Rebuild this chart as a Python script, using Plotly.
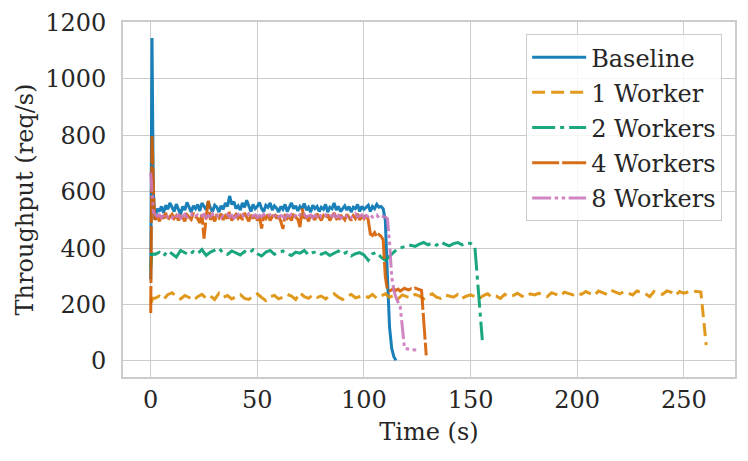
import plotly.graph_objects as go

# --- data ---
baseline_t = [0, 0.6, 1.2] + list(range(2, 116))
baseline_v = [
    290, 1145, 600,
    500, 540, 530, 548, 525, 552, 538, 560, 545,
    530, 556, 540, 520, 548, 535, 562, 545, 528, 550,
    540, 555, 532, 560, 548, 536, 565, 542, 530, 552,
    545, 528, 550, 538, 560, 548, 585, 555, 565, 540,
    550, 535, 560, 545, 570, 548, 530, 555, 540, 548,
    562, 540, 530, 552, 545, 560, 535, 550, 542, 528,
    548, 538, 555, 530, 545, 560, 540, 550, 532, 548,
    540, 558, 535, 545, 528, 552, 540, 548, 530, 545,
    538, 555, 528, 545, 540, 560, 535, 548, 530, 542,
    550, 535, 548, 528, 545, 540, 555, 530, 548, 538,
    545, 552, 530, 548, 540, 555, 545, 548,
    540, 500, 300, 120, 45, 15, 2,
]

w1_t = [0, 1] + list(range(2, 258, 2)) + [258, 260.5]
w1_v = [
    205, 222,
    222, 230, 218, 235, 242, 228, 220, 232, 225, 215,
    228, 236, 222, 230, 218, 240, 226, 232, 220, 228,
    235, 222, 218, 230, 238, 225, 214, 228, 232, 220,
    226, 236, 230, 218, 242, 228, 222, 234, 225, 230,
    220, 232, 238, 226, 218, 230, 236, 224, 228, 232,
    225, 236, 222, 230, 238, 226, 232, 220, 234, 228,
    224, 236, 230, 220, 232, 238, 226, 222, 234, 230,
    226, 236, 222, 230, 234, 228, 220, 232, 238, 226,
    230, 222, 236, 228, 232, 240, 230, 226, 238, 234,
    240, 232, 228, 242, 236, 230, 244, 238, 234, 242,
    236, 246, 240, 232, 248, 242, 236, 250, 244, 238,
    246, 240, 234, 248, 244, 238, 228, 246, 242, 236,
    248, 244, 232, 246, 240, 244, 248, 246,
    244, 56,
]

w2_t = [0, 0.5] + list(range(2, 152, 2)) + [152, 155.5]
w2_v = [
    330, 380,
    378, 385, 372, 390, 380, 368, 392, 384, 376, 388,
    380, 395, 374, 386, 392, 400, 382, 378, 390, 384,
    376, 388, 382, 394, 380, 372, 386, 392, 378, 384,
    390, 380, 374, 386, 382, 392, 376, 384, 388, 378,
    385, 374, 382, 390, 378, 386, 372, 380, 384, 376,
    357, 380, 385, 368, 357, 372, 386, 398, 404, 408,
    410, 406, 414, 420, 412, 418, 410, 422, 414, 408,
    416, 420, 412, 418, 417,
    405, 74,
]

w4_t = [0, 0.6, 1.5] + list(range(2, 128)) + [129.2]
w4_v = [
    170, 800, 560,
    500, 520, 495, 515, 505, 525, 498, 512, 520, 505,
    515, 498, 522, 508, 495, 518, 510, 502, 525, 512,
    505, 490, 520, 434, 510, 568, 500, 515, 495, 520,
    508, 522, 500, 515, 505, 528, 498, 512, 520, 505,
    515, 500, 525, 510, 495, 518, 505, 522, 498, 512,
    470, 515, 505, 520, 498, 512, 525, 505, 515, 495,
    468, 520, 505, 512, 498, 525, 510, 502, 475, 540,
    505, 515, 495, 520, 508, 500, 522, 510, 498, 515,
    505, 520, 498, 512, 525, 505, 495, 518, 508, 500,
    520, 510, 498, 515, 505, 522, 500, 512, 505, 518,
    500, 450, 445, 455, 440, 448, 442, 430, 300, 250,
    248, 252, 256, 250, 255, 248, 252, 258, 254, 252,
    256, 254, 258, 255, 252, 250,
    20,
]

w8_t = [0, 0.6, 1.3] + list(range(2, 120)) + [122, 124.5]
w8_v = [
    668, 595, 527,
    520, 512, 518, 508, 515, 522, 510, 516, 508, 520,
    512, 518, 506, 514, 520, 510, 516, 522, 508, 514,
    518, 510, 515, 520, 508, 516, 512, 522, 510, 514,
    518, 508, 515, 512, 520, 510, 516, 506, 514, 520,
    512, 518, 508, 515, 522, 510, 514, 518, 508, 516,
    512, 520, 510, 515, 518, 508, 514, 522, 510, 516,
    512, 506, 518, 514, 520, 510, 515, 508, 518, 512,
    520, 510, 514, 518, 508, 516, 512, 522, 510, 514,
    518, 508, 515, 512, 520, 510, 516, 506, 514, 520,
    512, 518, 508, 515, 522, 510, 514, 518, 508, 516,
    512, 520, 510, 515, 518, 508, 514, 512, 510,
    505, 420, 300, 250, 225, 205, 192, 120, 45,
    40, 39,
]

names = ["Baseline", "1 Worker", "2 Workers", "4 Workers", "8 Workers"]
series = [(baseline_t, baseline_v), (w1_t, w1_v), (w2_t, w2_v), (w4_t, w4_v), (w8_t, w8_v)]
colors = ["#0173b2", "#de8f05", "#029e73", "#d55e00", "#cc78bc"]
dashes = [
    "solid",
    "13px,6px",
    "23px,5px,4px,5px",
    "27px,3px",
    "19px,3.5px,3.5px,3.5px,3.5px,3.5px",
]

fig = go.Figure()
for name, (t, v), col, dash in zip(names, series, colors, dashes):
    fig.add_trace(
        go.Scatter(
            x=t, y=v, name=name, mode="lines", legendgroup=name,
            line=dict(color=col, width=3, dash=dash),
            opacity=0.9,
        )
    )

font_family = "DejaVu Serif"
fsize = 24
axis_common = dict(
    showgrid=True, gridcolor="#cccccc", gridwidth=1.3,
    showline=True, linecolor="#cccccc", linewidth=1.6, mirror=True,
    zeroline=False, ticks="", automargin=False,
    tickfont=dict(family=font_family, size=fsize, color="#262626"),
)

fig.update_layout(
    width=748, height=461,
    margin=dict(l=123, r=13, t=22, b=84),
    plot_bgcolor="white", paper_bgcolor="white",
    font=dict(family=font_family, size=fsize, color="#262626"),
    xaxis=dict(
        range=[-13.0, 274.0], tickvals=[0, 50, 100, 150, 200, 250],
        title=dict(text="Time (s)", standoff=11,
                   font=dict(family=font_family, size=fsize, color="#262626")),
        **axis_common,
    ),
    yaxis=dict(
        range=[-57, 1202], tickvals=[0, 200, 400, 600, 800, 1000, 1200],
        ticklabelstandoff=10,
        title=dict(text="Throughput (req/s)", standoff=5,
                   font=dict(family=font_family, size=fsize, color="#262626")),
        **axis_common,
    ),
    legend=dict(
        x=0.979, y=0.966, xanchor="right", yanchor="top",
        bgcolor="rgba(255,255,255,0.8)", bordercolor="#cccccc", borderwidth=1,
        font=dict(family=font_family, size=fsize, color="#262626"),
        itemwidth=54, tracegroupgap=1, entrywidth=200, entrywidthmode="pixels",
    ),
    showlegend=True,
)

fig.write_html(
    "out.html",
    config={"displayModeBar": False},
    post_script="document.body.style.margin='0';",
)
